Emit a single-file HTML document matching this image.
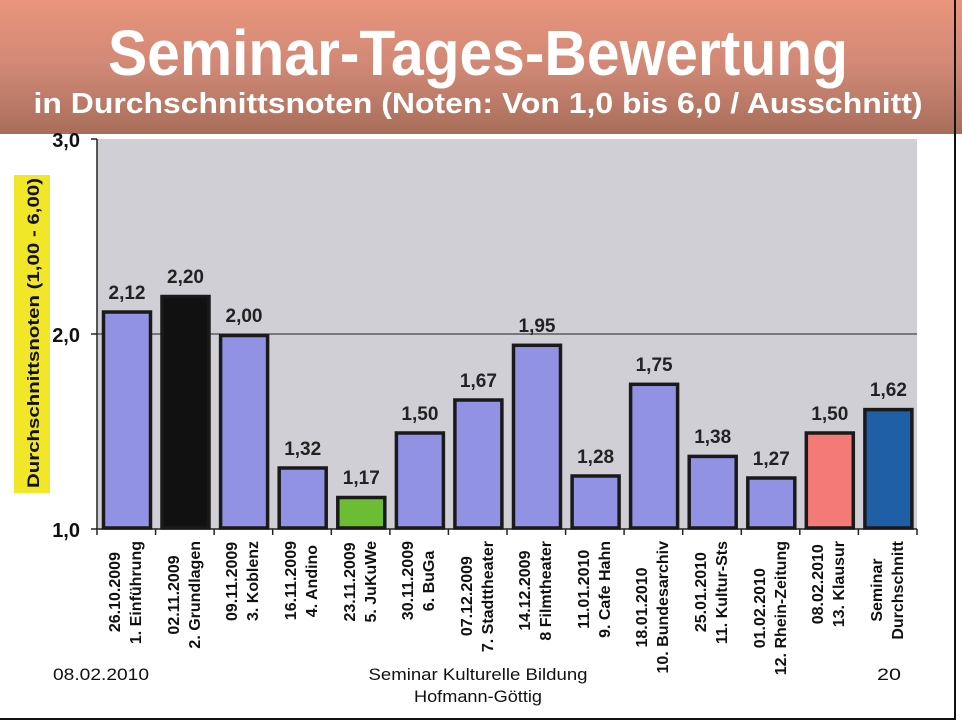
<!DOCTYPE html>
<html><head><meta charset="utf-8"><style>
body{margin:0;background:#fff;}
#w{position:relative;width:962px;height:721px;overflow:hidden;font-family:"Liberation Sans",Arial,sans-serif;}
.xl{position:absolute;top:541px;transform:translateX(-50%) rotate(180deg);writing-mode:vertical-rl;text-align:center;font-weight:bold;font-size:16px;line-height:21px;color:#111;white-space:nowrap;}
</style></head><body><div id="w">
<svg width="962" height="721" style="position:absolute;left:0;top:0" font-family="Liberation Sans, Arial, sans-serif">
<defs><linearGradient id="hg" x1="0" y1="0" x2="0" y2="1"><stop offset="0" stop-color="#ea957c"/><stop offset="0.5" stop-color="#d08876"/><stop offset="1" stop-color="#a86e5a"/></linearGradient></defs>
<rect x="0" y="0" width="962" height="134" fill="url(#hg)"/>
<text x="478" y="75" font-size="64" font-weight="bold" fill="#fff" text-anchor="middle" textLength="740" lengthAdjust="spacingAndGlyphs">Seminar-Tages-Bewertung</text>
<text x="478" y="113" font-size="29" font-weight="bold" fill="#fff" text-anchor="middle" textLength="889" lengthAdjust="spacingAndGlyphs">in Durchschnittsnoten (Noten: Von 1,0 bis 6,0 / Ausschnitt)</text>
<rect x="97" y="139" width="820" height="390" fill="#d0cfd6"/>
<line x1="97" y1="334" x2="917" y2="334" stroke="#222" stroke-width="1"/>
<line x1="97" y1="139" x2="97" y2="529" stroke="#222" stroke-width="1.5"/>
<line x1="97" y1="529" x2="917" y2="529" stroke="#222" stroke-width="1.5"/>
<g stroke="#222" stroke-width="1.5">
<line x1="91" y1="139" x2="97" y2="139"/><line x1="91" y1="334" x2="97" y2="334"/><line x1="91" y1="529" x2="97" y2="529"/>
<line x1="97" y1="529" x2="97" y2="535"/><line x1="155.6" y1="529" x2="155.6" y2="535"/><line x1="214.1" y1="529" x2="214.1" y2="535"/><line x1="272.7" y1="529" x2="272.7" y2="535"/><line x1="331.3" y1="529" x2="331.3" y2="535"/><line x1="389.9" y1="529" x2="389.9" y2="535"/><line x1="448.4" y1="529" x2="448.4" y2="535"/><line x1="507" y1="529" x2="507" y2="535"/><line x1="565.6" y1="529" x2="565.6" y2="535"/><line x1="624.1" y1="529" x2="624.1" y2="535"/><line x1="682.7" y1="529" x2="682.7" y2="535"/><line x1="741.3" y1="529" x2="741.3" y2="535"/><line x1="799.8" y1="529" x2="799.8" y2="535"/><line x1="858.4" y1="529" x2="858.4" y2="535"/><line x1="917" y1="529" x2="917" y2="535"/>
</g>
<g font-size="20" font-weight="bold" fill="#111" text-anchor="end">
<text x="80" y="147">3,0</text><text x="80" y="342">2,0</text><text x="80" y="537">1,0</text>
</g>
<rect x="14" y="175" width="36" height="318" fill="#f2e629"/>
<text transform="translate(39,333) rotate(-90)" font-size="17" font-weight="bold" fill="#111" text-anchor="middle" textLength="310" lengthAdjust="spacingAndGlyphs">Durchschnittsnoten (1,00 - 6,00)</text>
<g stroke="#1a1a1a" stroke-width="3.5">
<rect x="103.5" y="312" width="47" height="216" fill="#9292e4"/>
<rect x="162" y="296.5" width="47" height="231.5" fill="#111"/>
<rect x="220.6" y="335.5" width="47" height="192.5" fill="#9292e4"/>
<rect x="279.2" y="468" width="47" height="60" fill="#9292e4"/>
<rect x="337.8" y="497.5" width="47" height="30.5" fill="#6cbc34"/>
<rect x="396.4" y="433" width="47" height="95" fill="#9292e4"/>
<rect x="454.9" y="400" width="47" height="128" fill="#9292e4"/>
<rect x="513.5" y="345.3" width="47" height="182.7" fill="#9292e4"/>
<rect x="572.1" y="476" width="47" height="52" fill="#9292e4"/>
<rect x="630.6" y="384.3" width="47" height="143.7" fill="#9292e4"/>
<rect x="689.2" y="456.4" width="47" height="71.6" fill="#9292e4"/>
<rect x="747.8" y="478" width="47" height="50" fill="#9292e4"/>
<rect x="806.3" y="433" width="47" height="95" fill="#f47a78"/>
<rect x="864.9" y="409.6" width="47" height="118.4" fill="#1f5fa6"/>
</g>
<g font-size="19" font-weight="bold" fill="#222" text-anchor="middle">
<text x="127" y="299">2,12</text><text x="185.5" y="283">2,20</text><text x="244" y="322">2,00</text><text x="302.7" y="455">1,32</text><text x="361.3" y="484">1,17</text><text x="419.9" y="420">1,50</text><text x="478.4" y="387">1,67</text><text x="537" y="332">1,95</text><text x="595.6" y="463">1,28</text><text x="654.1" y="371">1,75</text><text x="712.7" y="443">1,38</text><text x="771.3" y="465">1,27</text><text x="829.8" y="420">1,50</text><text x="888.4" y="396">1,62</text>
</g>
<g font-size="17" fill="#111">
<text x="53" y="680" textLength="96" lengthAdjust="spacingAndGlyphs">08.02.2010</text>
<text x="478" y="680" text-anchor="middle" textLength="219" lengthAdjust="spacingAndGlyphs">Seminar Kulturelle Bildung</text>
<text x="478" y="702" text-anchor="middle" textLength="128" lengthAdjust="spacingAndGlyphs">Hofmann-Göttig</text>
<text x="877" y="680" textLength="24" lengthAdjust="spacingAndGlyphs">20</text>
</g>
<line x1="955" y1="0" x2="955" y2="720" stroke="#111" stroke-width="2"/>
<line x1="0" y1="719" x2="956" y2="719" stroke="#111" stroke-width="2"/>
</svg>
<div class="xl" style="left:126.3px">26.10.2009<br>1. Einführung</div>
<div class="xl" style="left:184.9px">02.11.2009<br>2. Grundlagen</div>
<div class="xl" style="left:243.4px">09.11.2009<br>3. Koblenz</div>
<div class="xl" style="left:302px">16.11.2009<br>4. Andino</div>
<div class="xl" style="left:360.6px">23.11.2009<br>5. JuKuWe</div>
<div class="xl" style="left:419.1px">30.11.2009<br>6. BuGa</div>
<div class="xl" style="left:477.7px">07.12.2009<br>7. Stadttheater</div>
<div class="xl" style="left:536.3px">14.12.2009<br>8 Filmtheater</div>
<div class="xl" style="left:594.9px">11.01.2010<br>9. Cafe Hahn</div>
<div class="xl" style="left:653.4px">18.01.2010<br>10. Bundesarchiv</div>
<div class="xl" style="left:712px">25.01.2010<br>11. Kultur-Sts</div>
<div class="xl" style="left:770.6px">01.02.2010<br>12. Rhein-Zeitung</div>
<div class="xl" style="left:829.1px">08.02.2010<br>13. Klausur</div>
<div class="xl" style="left:887.7px">Seminar<br>Durchschnitt</div>
</div></body></html>
